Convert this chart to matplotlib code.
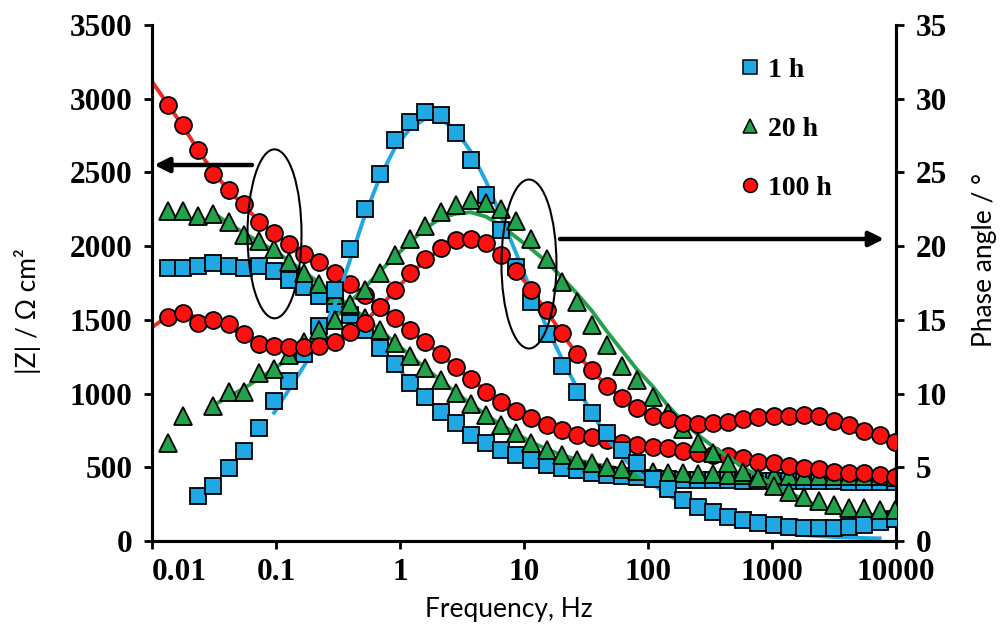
import numpy as np
import matplotlib
matplotlib.use('Agg')
import matplotlib.pyplot as plt
from matplotlib.patches import Ellipse
from matplotlib.lines import Line2D

nan = np.nan

# measured frequencies (Hz): ~13 mHz .. 10 kHz, about 8 points per decade
freq = 10 ** np.linspace(-1.87, 3.99, 49)
# fitted curves: same grid with a 10 mHz start point in front
fit_freq = np.concatenate([[0.01], freq])

labels = ['1 h', '20 h', '100 h']
xtick_vals = [0.01, 0.1, 1, 10, 100, 1000, 10000]
xtick_labels = ['0.01', '0.1', '1', '10', '100', '1000', '10000']

# |Z| / ohm cm2 (left axis)
z_1h = [1852, 1852, 1862, 1885, 1867, 1852, 1862, 1829, 1768, 1724,
        1665, 1609, 1535, 1433, 1308, 1200, 1075, 975, 875, 799,
        720, 663, 618, 584, 550, 516, 494, 482, 464, 448,
        441, 437, 425, 420, 417, 414, 412, 411, 410, 409,
        408, 407, 406, 405, 404, 403, 402, 401, 400]
z_20h = [2236, 2236, 2207, 2220, 2161, 2078, 2032, 1980, 1895, 1820,
         1742, 1670, 1595, 1512, 1433, 1342, 1257, 1173, 1093, 1007,
         930, 856, 788, 731, 667, 618, 584, 550, 528, 504,
         489, 477, 468, 462, 458, 455, 452, 450, 448, 446,
         445, 444, 443, 442, 441, 440, 439, 438, 437]
z_100h = [2956, 2825, 2655, 2490, 2379, 2288, 2164, 2089, 2017, 1949,
          1890, 1818, 1745, 1670, 1590, 1510, 1433, 1353, 1270, 1179,
          1098, 1014, 946, 885, 833, 788, 754, 720, 708, 686,
          663, 652, 640, 629, 613, 598, 584, 577, 561, 538,
          528, 509, 498, 487, 471, 464, 460, 448, 437]

# phase angle / deg (right axis)
ph_1h = [nan, nan, 3.05, 3.73, 4.93, 6.1, 7.65, 9.52, 10.85, 12.7,
         14.6, 17.0, 19.8, 22.5, 24.9, 27.2, 28.4, 29.1, 28.9, 27.7,
         25.85, 23.5, 21.1, 18.6, 16.2, 14.05, 11.9, 10.1, 8.66, 7.3,
         6.17, 5.27, 4.2, 3.5, 2.78, 2.3, 1.99, 1.65, 1.42, 1.24,
         1.09, 0.93, 0.86, 0.86, 0.86, 0.97, 1.09, 1.31, 1.47]
ph_20h = [6.67, 8.48, nan, 9.16, 10.1, 10.1, 11.4, 11.7, 12.6, 13.5,
          14.3, 15.0, 16.1, 17.0, 18.2, 19.4, 20.5, 21.4, 22.3, 22.8,
          23.1, 22.9, 22.5, 21.7, 20.5, 19.1, 17.6, 16.2, 14.65, 13.3,
          11.9, 10.9, 9.75, 8.66, 7.6, 6.65, 6.0, 5.3, 4.7, 4.25,
          3.75, 3.35, 2.96, 2.73, 2.44, 2.26, 2.22, 2.1, 2.1]
ph_100h = [15.2, 15.45, 14.8, 15.0, 14.7, 14.05, 13.35, 13.25, 13.18, 13.18,
           13.2, 13.5, 14.2, 14.8, 15.9, 17.0, 18.16, 19.1, 19.9, 20.4,
           20.5, 20.2, 19.4, 18.3, 17.0, 15.7, 14.1, 12.7, 11.6, 10.5,
           9.7, 9.0, 8.5, 8.25, 7.98, 7.94, 7.98, 8.1, 8.26, 8.43,
           8.48, 8.48, 8.55, 8.48, 8.16, 7.87, 7.48, 7.19, 6.7]

# fitted curves (first value at 10 mHz)
fit_z_1h = [nan, nan, nan, nan, nan, nan, nan, nan, 1830, 1775, 1720,
            1665, 1605, 1530, 1435, 1315, 1195, 1078, 970, 877, 795,
            725, 666, 618, 578, 545, 518, 496, 478, 463, 451,
            441, 432, 426, 420, 416, 413, 411, 410, 409, 408,
            407, 406, 405, 404, 403, 402, 401, 400, 400]
fit_z_20h = [nan, nan, nan, nan, 2225, 2155, 2090, 2030, 1970, 1900, 1825,
             1750, 1672, 1595, 1515, 1432, 1345, 1258, 1173, 1090, 1008,
             930, 856, 788, 727, 671, 623, 584, 552, 527, 506,
             490, 478, 469, 463, 458, 454, 451, 449, 447, 445,
             444, 443, 442, 441, 440, 439, 438, 437, 436]
fit_z_100h = [3117, 2960, 2810, 2650, 2500, 2380, 2275, 2170, 2085, 2015, 1950,
              1887, 1818, 1745, 1668, 1590, 1510, 1430, 1350, 1265, 1180,
              1097, 1018, 948, 887, 833, 788, 752, 724, 703, 684,
              667, 653, 640, 627, 614, 600, 587, 574, 561, 547,
              533, 519, 506, 494, 482, 471, 460, 448, 437]
fit_ph_1h = [nan, nan, nan, nan, nan, nan, nan, nan, 8.7, 10.3, 11.9,
             13.8, 16.0, 19.0, 22.1, 24.7, 26.7, 28.0, 28.65, 28.6, 27.9,
             26.4, 24.4, 22.0, 19.5, 16.9, 14.5, 12.4, 10.4, 8.7, 7.0,
             5.7, 4.7, 3.85, 3.15, 2.55, 2.1, 1.6, 1.3, 1.05, 0.85,
             0.65, 0.5, 0.4, 0.33, 0.27, 0.23, 0.2, 0.18, nan]
fit_ph_20h = [nan, nan, nan, nan, 9.2, 9.8, 10.35, 11.0, 11.7, 12.4, 13.1,
              14.1, 15.1, 16.2, 17.2, 18.3, 19.3, 20.3, 21.2, 21.9, 22.2,
              22.3, 22.0, 21.4, 20.6, 19.8, 18.95, 17.9, 16.8, 15.6, 14.2,
              12.9, 11.6, 10.5, 9.2, 8.1, 7.2, 6.4, 5.7, 5.0, 4.4,
              3.8, 3.3, 2.8, 2.35, 2.0, 1.7, 1.5, 1.3, 1.2]
fit_ph_100h = [14.5, 15.25, 15.35, 15.2, 14.9, 14.5, 14.0, 13.55, 13.25, 13.12, 13.1,
               13.2, 13.5, 14.1, 14.9, 15.9, 17.0, 18.1, 19.05, 19.8, 20.3,
               20.45, 20.2, 19.5, 18.35, 17.0, 15.6, 14.1, 12.7, 11.55, 10.5,
               9.7, 9.05, 8.55, 8.2, 8.0, 7.95, 8.0, 8.1, 8.25, 8.4,
               8.48, 8.52, 8.52, 8.45, 8.2, 7.88, 7.5, 7.12, 6.7]

blue = '#1fa8e4'
blue_z = '#5b9bd5'
green = '#22a24a'
red = '#ff1010'
red_line = '#ee2a24'

tick_font = dict(family='Liberation Serif', weight='bold', size=22.5)
label_font = dict(family=['Lato', 'DejaVu Sans'], size=19)

fig = plt.figure(figsize=(10.03, 6.32), dpi=100)
ax = fig.add_axes([0.1515, 0.144, 0.7418, 0.8164])
ax2 = ax.twinx()

lw = 2.8
mk = dict(ls='none', mec='black', mew=1.3, zorder=3)
# |Z| curves
ax.plot(fit_freq, fit_z_1h, color=blue_z, lw=lw, zorder=2)
ax.plot(fit_freq, fit_z_20h, color=green, lw=lw, zorder=2)
ax.plot(fit_freq, fit_z_100h, color=red_line, lw=lw, zorder=2)
ax.plot(freq, z_1h, marker='s', ms=11.3, mfc=blue, **mk)
ax.plot(freq, z_20h, marker='^', ms=12.8, mfc=green, **mk)
ax.plot(freq, z_100h, marker='o', ms=12.2, mfc=red, **mk)

# phase curves
ax2.plot(fit_freq, fit_ph_1h, color=blue, lw=lw, zorder=2)
ax2.plot(fit_freq, fit_ph_20h, color=green, lw=lw, zorder=2)
ax2.plot(fit_freq, fit_ph_100h, color=red_line, lw=lw, zorder=2)
ax2.plot(freq, ph_1h, marker='s', ms=11.3, mfc=blue, **mk)
ax2.plot(freq, ph_20h, marker='^', ms=12.8, mfc=green, **mk)
ax2.plot(freq, ph_100h, marker='o', ms=12.2, mfc=red, **mk)

ax.set_xscale('log')
ax.set_xlim(0.01, 10000)
ax.set_ylim(0, 3500)
ax2.set_ylim(0, 35)
ax.set_xticks(xtick_vals)
ax.set_xticklabels(xtick_labels, fontdict=tick_font)
ax.xaxis.set_minor_locator(matplotlib.ticker.NullLocator())
ax.set_yticks(np.arange(0, 3501, 500))
ax.set_yticklabels([str(v) for v in range(0, 3501, 500)], fontdict=tick_font)
ax2.set_yticks(np.arange(0, 36, 5))
ax2.set_yticklabels([str(v) for v in range(0, 36, 5)], fontdict=tick_font)
ax.get_xticklabels()[0].set_horizontalalignment('left')

for a in (ax, ax2):
    a.spines['top'].set_visible(False)
    for s in ('left', 'right', 'bottom'):
        a.spines[s].set_linewidth(2.2)
ax.tick_params(axis='both', direction='out', length=6, width=2, pad=6)
ax.tick_params(axis='y', pad=8)
ax2.tick_params(axis='y', direction='out', length=6, width=2, pad=8)

fig.text(0.027, 0.507, '|Z| / Ω cm²', rotation=90, ha='center', va='center', **label_font)
fig.text(0.982, 0.588, 'Phase angle / °', rotation=90, ha='center', va='center', **label_font)
fig.text(0.507, 0.035, 'Frequency, Hz', ha='center', va='center', **label_font)

# ellipses and arrows
ax2.add_patch(Ellipse((0.1647, 0.5953), 0.0726, 0.3275, transform=ax2.transAxes,
                      fill=False, ec='black', lw=1.5, zorder=4))
ax2.add_patch(Ellipse((0.5067, 0.5368), 0.0739, 0.3275, transform=ax2.transAxes,
                      fill=False, ec='black', lw=1.5, zorder=4))
arrow = dict(arrowstyle='-|>', lw=3.2, color='black', mutation_scale=22, shrinkA=0, shrinkB=0)
ax2.annotate('', xy=(0.003, 0.7287), xytext=(0.1344, 0.7287),
             xycoords='axes fraction', textcoords='axes fraction', arrowprops=arrow)
ax2.annotate('', xy=(0.984, 0.5853), xytext=(0.5484, 0.5853),
             xycoords='axes fraction', textcoords='axes fraction', arrowprops=arrow)

handles = [Line2D([], [], ls='none', marker='s', ms=9.5, mfc=blue, mec='black', mew=1.1),
           Line2D([], [], ls='none', marker='^', ms=10.5, mfc=green, mec='black', mew=1.1),
           Line2D([], [], ls='none', marker='o', ms=10, mfc=red, mec='black', mew=1.1)]
leg = ax2.legend(handles, labels, loc='upper left', bbox_to_anchor=(0.757, 0.985),
                 frameon=False, handlelength=0.7, handletextpad=0.3, labelspacing=1.2,
                 prop=dict(family='Liberation Serif', weight='bold', size=20))

fig.savefig('out.png', dpi=100)
